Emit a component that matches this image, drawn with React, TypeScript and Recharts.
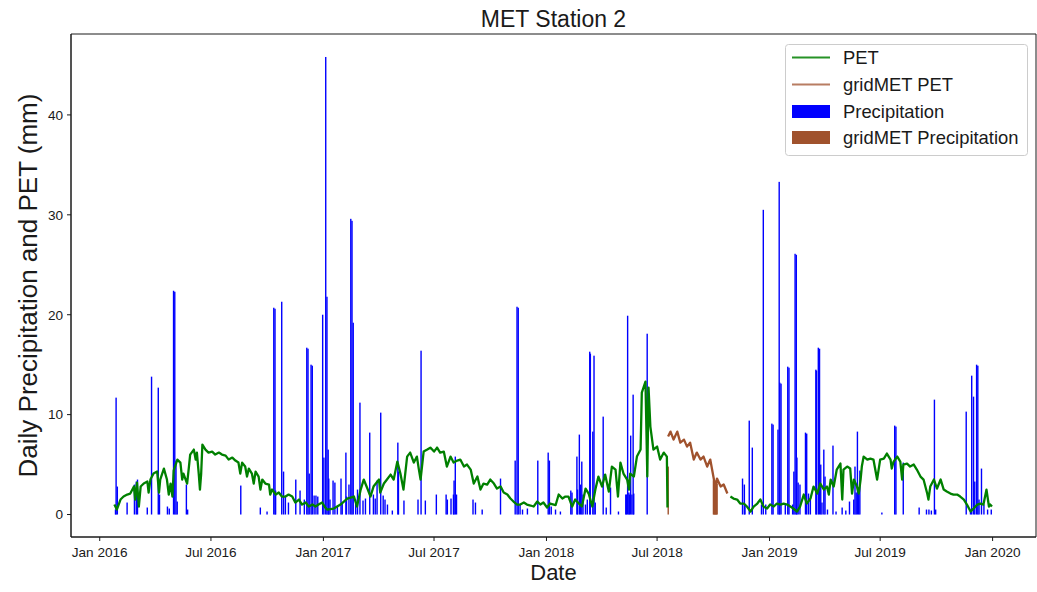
import {
  ComposedChart,
  Line,
  Bar,
  XAxis,
  YAxis,
  Legend,
  ReferenceArea,
} from "recharts";

// Day offsets are counted from 2016-01-01 (day 0).
const X_TICKS = [0, 182, 366, 547, 731, 912, 1096, 1277, 1461];
const X_TICK_LABELS = [
  "Jan 2016",
  "Jul 2016",
  "Jan 2017",
  "Jul 2017",
  "Jan 2018",
  "Jul 2018",
  "Jan 2019",
  "Jul 2019",
  "Jan 2020",
];
const Y_TICKS = [0, 10, 20, 30, 40];

// Station PET (mm/day) as [day, value], before the gridMET fill-in period.
const PET_2016: [number, number][] = [
  [24, 1.0], [28, 0.5], [34, 1.5], [39, 1.8], [45, 2.0], [50, 2.1], [56, 2.8], [58, 1.5],
  [61, 3.2], [64, 0.8], [67, 2.8], [72, 3.1], [78, 3.3], [80, 2.2], [83, 3.5], [88, 4.1],
  [94, 4.3], [97, 2.2], [99, 3.5], [105, 4.6], [110, 3.5], [113, 2.0], [116, 3.1], [119, 1.8],
  [121, 4.4], [127, 5.5], [132, 5.2], [135, 3.5], [137, 4.1], [143, 3.1], [146, 4.8], [148, 6.0],
  [154, 6.5], [157, 5.5], [159, 6.2], [162, 4.1], [164, 2.5], [166, 4.1], [168, 7.0], [173, 6.5],
  [178, 6.2], [184, 6.3], [189, 6.0], [195, 6.2], [200, 6.0], [206, 5.9], [211, 5.5], [217, 5.7],
  [222, 5.4], [227, 5.2], [230, 4.1], [233, 5.2], [238, 4.8], [241, 3.8], [244, 4.6], [249, 4.1],
  [252, 3.1], [255, 4.3], [260, 3.8], [263, 2.5], [266, 3.5], [271, 3.1], [277, 3.0], [279, 2.0],
  [282, 2.5], [288, 2.0], [293, 2.2], [298, 1.8], [304, 1.8], [309, 2.0], [315, 1.8], [320, 1.2],
  [326, 1.5], [331, 1.0], [337, 1.2], [342, 0.8], [348, 1.0], [353, 0.8], [358, 1.0], [364, 1.2],
  [369, 0.7],
];
const PET_2017: [number, number][] = [
  [372, 0.5], [383, 0.6], [394, 1.0], [405, 1.6], [416, 1.8], [421, 0.8], [427, 2.5], [432, 3.5],
  [438, 2.6], [443, 1.8], [448, 2.8], [457, 3.5], [459, 2.2], [465, 3.1], [470, 3.5], [476, 4.0],
  [481, 3.5], [487, 5.3], [492, 4.1], [497, 2.5], [503, 5.8], [508, 6.2], [514, 5.2], [519, 5.8],
  [522, 4.6], [525, 3.5], [530, 6.3], [536, 6.5], [541, 6.7], [547, 6.3], [552, 6.7], [557, 6.2],
  [563, 6.3], [568, 4.8], [574, 5.8], [579, 5.2], [585, 5.4], [590, 5.5], [596, 4.8], [601, 5.0],
  [607, 4.5], [612, 3.1], [618, 3.8], [623, 2.5], [628, 3.1], [634, 3.0], [639, 3.5], [645, 3.1],
  [650, 2.6], [656, 2.8], [661, 2.2], [667, 2.0], [672, 1.6], [677, 1.3], [683, 1.0], [688, 1.0],
  [694, 1.2], [699, 1.0], [705, 0.9], [710, 0.8], [716, 1.3], [721, 1.0], [726, 1.2], [732, 0.7],
];
const PET_2018: [number, number][] = [
  [737, 1.1], [746, 0.95], [751, 2.0], [757, 1.6], [762, 1.8], [767, 1.8], [773, 0.8], [778, 1.5],
  [784, 1.1], [789, 0.8], [795, 2.6], [800, 2.1], [806, 0.8], [811, 2.5], [816, 3.8], [822, 2.8],
  [827, 4.0], [833, 2.3], [838, 4.8], [844, 4.5], [848, 1.8], [852, 5.2], [857, 4.1], [863, 3.5],
  [866, 2.5], [868, 4.1], [874, 3.8], [879, 5.8], [885, 6.5], [887, 12.2], [893, 13.3], [896, 3.8],
  [898, 12.7], [901, 8.8], [906, 6.5], [912, 6.8], [917, 5.5], [923, 6.2], [928, 5.8], [929, 0.7],
];
// Station PET after the gap.
const PET_LATE: [number, number][] = [
  [1032, 1.8], [1037, 1.6], [1043, 1.5], [1048, 1.1], [1054, 1.1], [1059, 0.8], [1065, 0.3], [1070, 0.8],
  [1076, 1.1], [1081, 1.5], [1086, 0.8], [1092, 0.6], [1097, 1.0], [1103, 0.8], [1108, 1.1], [1114, 1.0],
  [1119, 1.1], [1125, 1.0], [1130, 0.8], [1135, 0.6], [1141, 0.3], [1146, 0.8], [1152, 2.0], [1157, 1.1],
  [1163, 1.6], [1168, 2.8], [1174, 2.1], [1179, 3.1], [1185, 2.5], [1190, 2.8], [1193, 2.0], [1196, 3.5],
  [1201, 2.8], [1206, 4.5], [1212, 5.1], [1215, 1.5], [1217, 4.5], [1223, 4.8], [1228, 4.6], [1231, 2.1],
  [1234, 3.5], [1239, 2.8], [1242, 2.1], [1245, 3.5], [1247, 4.8], [1250, 5.8], [1256, 5.5], [1261, 5.6],
  [1266, 5.5], [1272, 3.5], [1277, 5.5], [1283, 5.6], [1288, 6.1], [1294, 5.5], [1296, 4.6], [1299, 5.3],
  [1305, 5.8], [1310, 5.3], [1313, 3.5], [1315, 5.0], [1321, 5.1], [1326, 4.8], [1332, 5.0], [1337, 4.5],
  [1343, 3.8], [1348, 3.5], [1354, 2.1], [1356, 1.5], [1359, 2.8], [1365, 3.5], [1370, 2.6], [1376, 3.5],
  [1381, 2.5], [1386, 2.3], [1392, 2.1], [1397, 2.0], [1403, 2.0], [1408, 1.8], [1414, 1.5], [1419, 1.0],
  [1425, 0.3], [1430, 0.6], [1436, 1.0], [1441, 1.1], [1446, 1.0], [1451, 2.5], [1455, 0.8], [1457, 1.0],
  [1460, 0.8],
];
// gridMET PET used while the station was down.
const GRID_PET: [number, number][] = [
  [930, 7.8], [934, 8.3], [939, 7.5], [945, 8.3], [950, 7.2], [956, 7.5], [961, 6.8], [966, 7.2],
  [972, 5.5], [977, 6.2], [983, 5.5], [988, 5.8], [994, 4.8], [999, 5.5], [1002, 4.5], [1005, 3.5],
  [1007, 2.5], [1010, 3.6], [1016, 2.8], [1021, 3.0], [1027, 2.1],
];

// Daily precipitation (mm), wet days only.
const PRECIP_2016: [number, number][] = [
  [26, 0.5], [27, 11.7], [29, 2.8], [45, 1.2], [57, 3.0], [60, 3.3], [62, 3.5], [78, 0.7],
  [85, 13.8], [96, 12.7], [98, 2.0], [111, 0.8], [114, 0.6], [121, 22.4], [123, 22.3], [125, 5.4],
  [127, 1.3], [142, 3.0], [144, 0.5], [231, 2.9], [263, 0.7], [274, 0.3], [285, 20.7], [287, 20.6],
  [288, 2.4], [298, 21.3], [301, 4.3], [304, 1.8], [309, 1.2], [321, 3.5], [328, 2.4], [335, 1.5],
  [339, 16.7], [341, 16.6], [343, 4.1], [346, 15.0], [348, 14.9], [351, 1.9], [354, 1.9], [357, 1.8],
  [365, 20.0],
];
const PRECIP_2017: [number, number][] = [
  [367, 5.7], [370, 45.8], [372, 21.8], [374, 6.5], [375, 3.6], [377, 1.5], [382, 3.4], [385, 3.2],
  [389, 0.8], [395, 3.6], [397, 1.2], [403, 6.2], [404, 1.8], [408, 3.0], [411, 29.6], [413, 29.4],
  [415, 19.2], [419, 1.5], [422, 2.5], [426, 11.2], [431, 1.4], [435, 1.6], [442, 8.2], [448, 2.0],
  [451, 1.6], [454, 3.4], [460, 10.2], [464, 1.9], [467, 1.5], [471, 1.0], [479, 0.4], [488, 7.2],
  [489, 4.3], [498, 1.4], [521, 1.5], [526, 16.4], [533, 1.4], [551, 2.0], [567, 2.0], [569, 1.5],
  [575, 1.6], [579, 2.0], [580, 3.4], [582, 5.8], [584, 2.0], [611, 1.5], [615, 1.2], [626, 0.5],
  [656, 3.6], [680, 5.4], [683, 20.8], [685, 20.7], [688, 1.0], [692, 0.5], [700, 0.6], [717, 5.4],
];
const PRECIP_2018: [number, number][] = [
  [734, 6.2], [736, 5.4], [739, 0.8], [746, 0.5], [754, 0.3], [771, 2.4], [773, 2.2], [781, 5.8],
  [782, 2.5], [785, 8.0], [787, 3.0], [789, 5.3], [791, 2.0], [795, 1.0], [798, 1.5], [802, 16.3],
  [803, 16.1], [807, 8.3], [809, 15.9], [811, 1.2], [824, 9.8], [829, 0.7], [836, 2.7], [849, 0.3],
  [861, 2.0], [862, 2.0], [864, 19.9], [866, 2.2], [867, 2.0], [869, 7.9], [871, 2.0], [873, 12.0],
  [874, 2.1], [896, 18.1], [1052, 3.6], [1055, 3.0], [1056, 1.0], [1063, 9.4], [1068, 6.7], [1083, 1.0],
  [1086, 30.5], [1090, 1.0],
];
const PRECIP_2019: [number, number][] = [
  [1100, 9.1], [1102, 9.0], [1110, 8.5], [1112, 33.3], [1113, 13.2], [1115, 13.1], [1122, 1.0], [1126, 14.8],
  [1128, 14.7], [1134, 1.0], [1136, 4.3], [1138, 26.1], [1140, 26.0], [1141, 5.7], [1143, 3.2], [1146, 3.0],
  [1155, 8.2], [1157, 8.1], [1160, 2.1], [1163, 1.5], [1172, 14.5], [1173, 14.4], [1176, 16.7], [1178, 16.6],
  [1180, 5.0], [1182, 1.2], [1185, 6.5], [1187, 3.8], [1191, 0.5], [1200, 6.9], [1205, 0.3], [1215, 0.7],
  [1221, 0.4], [1227, 1.3], [1234, 1.5], [1236, 4.8], [1238, 2.2], [1240, 8.3], [1242, 2.5], [1244, 4.4],
  [1280, 0.2], [1301, 8.9], [1303, 8.8], [1315, 5.2], [1341, 0.7], [1353, 0.5], [1357, 0.5], [1361, 0.4],
  [1366, 11.5], [1368, 0.5], [1418, 10.3], [1425, 0.5], [1427, 13.9], [1430, 11.8], [1432, 3.3], [1435, 15.0],
  [1437, 14.9], [1439, 1.5], [1443, 4.6], [1447, 1.0], [1453, 0.5], [1459, 0.5],
];
const GRID_PRECIP: [number, number][] = [
  [930, 4.8], [1004, 3.4], [1005, 3.3], [1006, 3.4], [1007, 3.2], [1008, 3.4], [1009, 3.3], [1010, 3.1],
];

const PET_COLOR = "#008000";
const GRID_COLOR = "#a0522d";
const PRECIP_COLOR = "#0000ff";
const FONT = '"Liberation Sans", Arial, Helvetica, sans-serif';
const INK = "#1a1a1a";

type Row = {
  day: number;
  pet?: number;
  petLate?: number;
  gridPet?: number;
  precip?: number;
  gridPrecip?: number;
};

function buildRows(): Row[] {
  const byDay = new Map<number, Row>();
  const put = (series: [number, number][], key: keyof Omit<Row, "day">) => {
    for (const [day, v] of series) {
      const row = byDay.get(day) ?? { day };
      row[key] = v;
      byDay.set(day, row);
    }
  };
  put([...PET_2016, ...PET_2017, ...PET_2018], "pet");
  put(PET_LATE, "petLate");
  put(GRID_PET, "gridPet");
  put([...PRECIP_2016, ...PRECIP_2017, ...PRECIP_2018, ...PRECIP_2019], "precip");
  put(GRID_PRECIP, "gridPrecip");
  return [...byDay.values()].sort((a, b) => a.day - b.day);
}

const rows = buildRows();

// matplotlib-style thin daily bar, centred on the day.
const thinBar = (fill: string) => (props: any) => {
  const { x, y, width, height } = props;
  if (!height || height <= 0) return <g />;
  const cx = x + (width || 0) / 2;
  return <rect x={cx - 0.7} y={y} width={1.4} height={height} fill={fill} />;
};

const LEGEND_ITEMS = [
  { label: "PET", color: PET_COLOR, kind: "line" },
  { label: "gridMET PET", color: GRID_COLOR, kind: "line" },
  { label: "Precipitation", color: PRECIP_COLOR, kind: "patch" },
  { label: "gridMET Precipitation", color: GRID_COLOR, kind: "patch" },
];

function LegendBox() {
  const rowY = [13.5, 40.5, 67.5, 93.5];
  return (
    <svg width={243} height={112} style={{ display: "block" }}>
      <rect x={0.5} y={0.5} width={242} height={111} rx={3} fill="#fff" fillOpacity={0.8} stroke="#cccccc" />
      {LEGEND_ITEMS.map((it, i) => (
        <g key={it.label}>
          {it.kind === "line" ? (
            <line x1={7} x2={45} y1={rowY[i]} y2={rowY[i]} stroke={it.color} strokeWidth={2} strokeOpacity={it.color === GRID_COLOR ? 0.75 : 0.85} />
          ) : (
            <rect x={7} y={rowY[i] - 6.5} width={38} height={13} fill={it.color} />
          )}
          <text x={58} y={rowY[i] + 6.6} fontSize={18.4} fontFamily={FONT} fill={INK}>
            {it.label}
          </text>
        </g>
      ))}
    </svg>
  );
}

export default function App() {
  return (
    <div style={{ position: "absolute", left: 0, top: 0, background: "#fff" }}>
      <ComposedChart
        width={1037}
        height={592}
        data={rows}
        margin={{ top: 34, right: 1, bottom: 12, left: 11 }}
      >
        <XAxis
          dataKey="day"
          type="number"
          domain={[-47, 1532]}
          allowDataOverflow
          ticks={X_TICKS}
          tickFormatter={(v: number) => X_TICK_LABELS[X_TICKS.indexOf(v)] ?? ""}
          height={43}
          tickSize={4}
          tickMargin={6}
          stroke={INK}
          tick={{ fontSize: 13.6, fontFamily: FONT, fill: INK }}
          label={{ value: "Date", position: "insideBottom", offset: 0, fontSize: 22, fontFamily: FONT, fill: INK }}
        />
        <YAxis
          type="number"
          domain={[-2.25, 48.1]}
          allowDataOverflow
          ticks={Y_TICKS}
          width={60}
          tickSize={4}
          tickMargin={4}
          stroke={INK}
          tick={{ fontSize: 13.6, fontFamily: FONT, fill: INK }}
          label={{
            value: "Daily Precipitation and PET (mm)",
            angle: -90,
            position: "insideLeft",
            offset: 17,
            fontSize: 26,
            fontFamily: FONT,
            fill: INK,
            style: { textAnchor: "middle" },
          }}
        />
        <Bar dataKey="precip" fill={PRECIP_COLOR} shape={thinBar(PRECIP_COLOR)} isAnimationActive={false} />
        <Bar dataKey="gridPrecip" fill={GRID_COLOR} shape={thinBar(GRID_COLOR)} isAnimationActive={false} />
        <Line dataKey="pet" stroke={PET_COLOR} strokeWidth={2.3} strokeLinejoin="round" dot={false} connectNulls isAnimationActive={false} />
        <Line dataKey="gridPet" stroke={GRID_COLOR} strokeWidth={2.3} strokeLinejoin="round" dot={false} connectNulls isAnimationActive={false} />
        <Line dataKey="petLate" stroke={PET_COLOR} strokeWidth={2.3} strokeLinejoin="round" dot={false} connectNulls isAnimationActive={false} />
        <ReferenceArea
          x1={-47}
          x2={1532}
          y1={-2.25}
          y2={48.1}
          fill="none"
          stroke={INK}
          strokeWidth={1}
          ifOverflow="visible"
          label={{ value: "MET Station 2", position: "top", offset: 7, fontSize: 23, fontFamily: FONT, fill: INK }}
        />
        <Legend
          layout="vertical"
          align="center"
          verticalAlign="middle"
          wrapperStyle={{ left: 785, top: 44, width: 243, height: 112 }}
          content={() => <LegendBox />}
        />
      </ComposedChart>
    </div>
  );
}
